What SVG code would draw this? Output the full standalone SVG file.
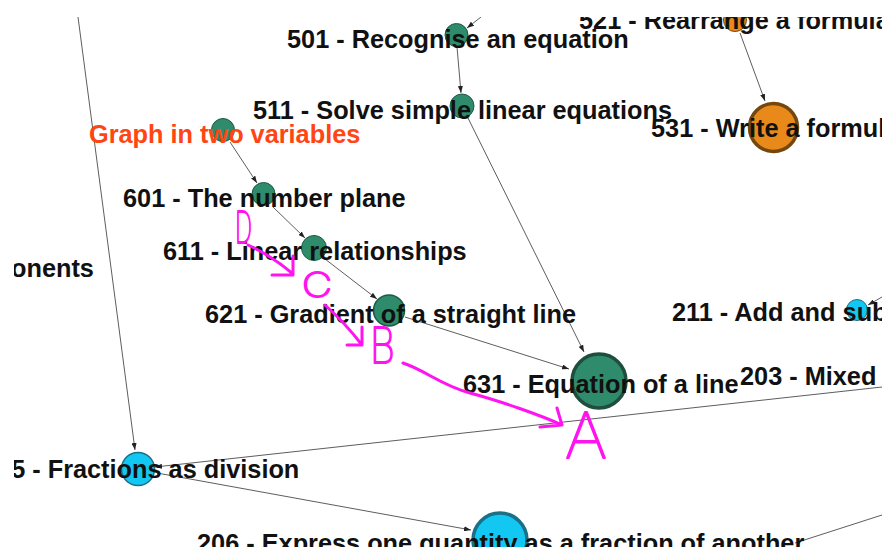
<svg xmlns="http://www.w3.org/2000/svg" width="882" height="547" viewBox="0 0 882 547">
<style>
.lbl{font-family:"Liberation Sans",Arial,sans-serif;font-weight:bold;font-size:25.3px;fill:#111}
.red{fill:#ff4512}
.e{stroke:#333;stroke-width:0.8;fill:none;marker-end:url(#ah)}
.en{stroke:#333;stroke-width:0.8;fill:none}
.g{fill:#2e8b6c;stroke:#1d5a45;stroke-width:1}
.gb{fill:#2e8b6c;stroke:#1f4e3c;stroke-width:3.5}
.o{fill:#e8891a;stroke:#7a4a14;stroke-width:1}
.ob{fill:#e8891a;stroke:#74470f;stroke-width:3.5}
.c{fill:#12c8f2;stroke:#1b6f86;stroke-width:1.5}
.cb{fill:#12c8f2;stroke:#1b6f86;stroke-width:3.5}
.m{stroke:#ff14f0;stroke-width:3;fill:none;stroke-linecap:round;stroke-linejoin:round}
.mt{font-family:Inter,"DejaVu Sans",sans-serif;font-weight:100;fill:#ff14f0;stroke:#ff14f0;stroke-width:2;stroke-linejoin:round}
</style>
<defs>
<marker id="ah" markerUnits="userSpaceOnUse" markerWidth="7" markerHeight="5" refX="7" refY="2.5" orient="auto">
<path d="M0,0 L7,2.5 L0,5 z" fill="#222"/>
</marker>
<clipPath id="clip"><rect x="14" y="17" width="868" height="530"/></clipPath>
</defs>
<rect width="882" height="547" fill="#fff"/>
<g clip-path="url(#clip)">
<g id="connectors">
<path class="e" d="M78,17 L135,450"/>
<path class="e" d="M481,17 L467,28"/>
<path class="e" d="M457,47 L461,93"/>
<path class="e" d="M740,33 L765,101"/>
<path class="e" d="M230,142 L257,183"/>
<path class="e" d="M273,207 L305,238"/>
<path class="e" d="M325,259 L377,299"/>
<path class="e" d="M405,317 L569,369"/>
<path class="e" d="M468,118 L584,352"/>
<path class="e" d="M882,387 L155,467"/>
<path class="e" d="M157,473 L471,530"/>
<path class="e" d="M882,297 L868,305"/>
<path class="en" d="M882,515 L795,543"/>
</g>
<g id="n501"><circle class="g" cx="456.5" cy="35" r="11.5"/><text class="lbl" x="287" y="48">501 - Recognise an equation</text></g>
<g id="n511"><circle class="g" cx="462" cy="106" r="12"/><text class="lbl" x="253" y="119">511 - Solve simple linear equations</text></g>
<g id="n521"><circle class="o" cx="735" cy="20" r="11.5"/><text class="lbl" x="579" y="29">521 - Rearrange a formula</text></g>
<g id="n531"><circle class="ob" cx="773.5" cy="127.5" r="24"/><text class="lbl" x="651" y="137">531 - Write a formula</text></g>
<g id="ngtv"><circle class="g" cx="223" cy="130" r="11.5"/><text class="lbl red" x="89" y="143">Graph in two variables</text></g>
<g id="n601"><circle class="g" cx="263.5" cy="194" r="11.5"/><text class="lbl" x="123" y="207">601 - The number plane</text></g>
<g id="n611"><circle class="g" cx="314" cy="248" r="12.5"/><text class="lbl" x="163" y="260">611 - Linear relationships</text></g>
<g id="n621"><circle class="g" cx="389" cy="310.5" r="15.5" style="stroke-width:1.5"/><text class="lbl" x="205" y="323">621 - Gradient of a straight line</text></g>
<g id="n631"><circle class="gb" cx="599" cy="381" r="27"/><text class="lbl" x="463" y="393">631 - Equation of a line</text></g>
<g id="nonents"><text class="lbl" x="11" y="277">onents</text></g>
<g id="n203"><text class="lbl" x="740" y="385">203 - Mixed</text></g>
<g id="n211"><circle class="c" cx="857" cy="310" r="10.5" style="stroke-width:1"/><text class="lbl" x="672" y="321">211 - Add and subtract</text></g>
<g id="n205"><circle class="c" cx="138" cy="469" r="16.5"/><text class="lbl" x="-17" y="478">205 - Fractions as division</text></g>
<g id="n206"><circle class="cb" cx="500" cy="540" r="27"/><text class="lbl" x="197" y="552">206 - Express one quantity as a fraction of another</text></g>
</g>
<g id="annotations">
<text class="mt" x="235" y="243" font-size="43" textLength="17" lengthAdjust="spacingAndGlyphs">D</text>
<path class="m" d="M248,245 Q272,256 293,274 M272,275 L293,275 L293,256"/>
<text class="mt" x="302" y="297" font-size="34" textLength="30" lengthAdjust="spacingAndGlyphs">C</text>
<path class="m" d="M325,305 Q346,324 362,345 M347,345 L362,345 L362,327"/>
<text class="mt" x="370" y="363" font-size="49" textLength="25" lengthAdjust="spacingAndGlyphs">B</text>
<path class="m" d="M403,363 C425,370 440,385 470,393 S540,415 562,425 M540,427 L562,425 L557,408"/>
<text class="mt" x="565" y="458" font-size="63" textLength="42" lengthAdjust="spacingAndGlyphs">A</text>
</g>
</svg>
